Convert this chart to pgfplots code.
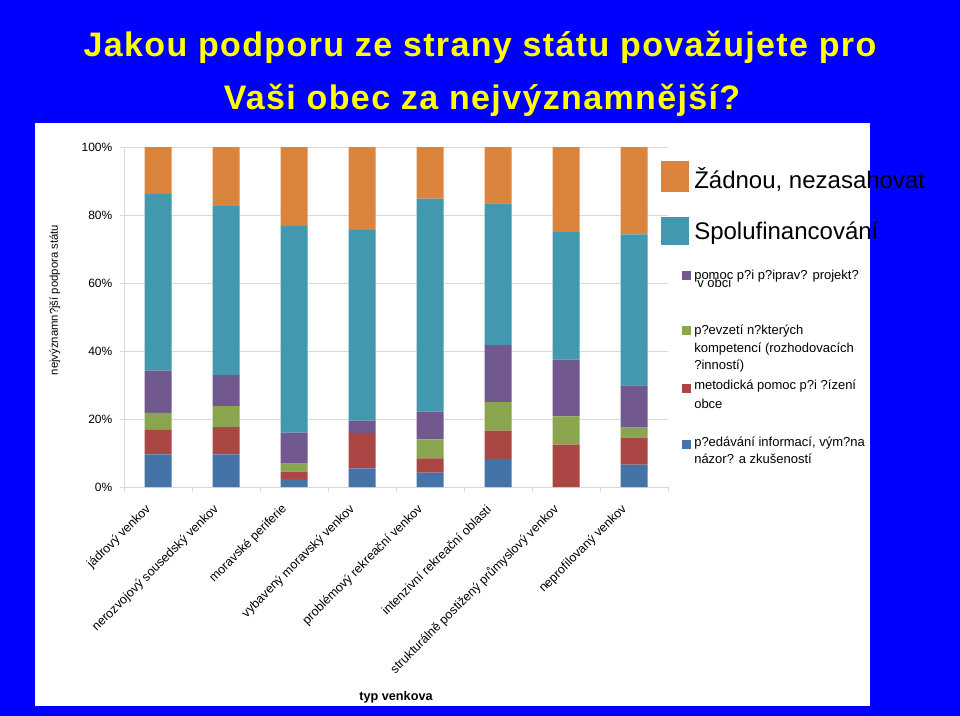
\documentclass[border=0pt]{standalone}
\usepackage{fontspec}
\setmainfont{Liberation Sans}
\newfontfamily\titlefont[LetterSpace=4]{Liberation Sans}
\usepackage{pgfplots}
\usepackage{pgfplotstable}
\pgfplotsset{compat=1.18}
\definecolor{bgblue}{RGB}{0,0,255}
\definecolor{tyellow}{RGB}{255,255,0}
\definecolor{cblue}{HTML}{4572A7}
\definecolor{cred}{HTML}{AA4643}
\definecolor{cgreen}{HTML}{89A54E}
\definecolor{cpurple}{HTML}{71588F}
\definecolor{cteal}{HTML}{4198AF}
\definecolor{corange}{HTML}{DB843D}
\definecolor{gridgray}{HTML}{D9D9D9}

\pgfplotstableread{
x blue red green purple teal orange
0 9.6 7.2 5.0 12.4 52.0 13.8
1 9.6 8.0 6.2 9.1 49.7 17.4
2 2.3 2.2 2.4 9.1 60.8 23.2
3 5.5 10.4 0.0 3.6 56.1 24.4
4 4.2 4.2 5.6 8.2 62.6 15.2
5 8.3 8.3 8.4 16.7 41.7 16.6
6 0.0 12.5 8.3 16.7 37.5 25.0
7 6.6 7.9 3.0 12.4 44.4 25.7
}\data

\begin{document}
\begin{tikzpicture}
\begin{scope}[x=0.75pt,y=-0.75pt]
\fill[bgblue] (0,0) rectangle (960,716);
\fill[white] (35,123) rectangle (870,706);
\node[tyellow, anchor=base, inner sep=0pt, font=\titlefont\bfseries\fontsize{25.5}{30}\selectfont] at (480,57) {Jakou podporu ze strany státu považujete pro};
\node[tyellow, anchor=base, inner sep=0pt, font=\titlefont\bfseries\fontsize{25.5}{30}\selectfont] at (482,110) {Vaši obec za nejvýznamnější?};
\end{scope}
\begin{axis}[
  at={(93pt,-365.25pt)}, anchor=south west,
  scale only axis, width=408pt, height=255pt,
  ybar stacked, bar width=20.25pt,
  xmin=-0.5, xmax=7.5, ymin=0, ymax=100,
  enlargelimits=false,
  ytick={0,20,...,100},
  yticklabel={\pgfmathprintnumber{\tick}\%},
  /pgf/number format/assume math mode=true,
  ymajorgrids, grid style={gridgray},
  axis x line*=bottom, axis y line*=left,
  axis line style={gridgray},
  tick align=outside,
  major tick length=3pt,
  tick style={gridgray},
  xtick={0,...,7},
  every major x tick/.append style={draw=none},
  minor xtick={-0.5,0.5,...,7.5},
  minor tick length=4pt,
  xticklabels={jádrový venkov,nerozvojový sousedský venkov,moravské periferie,vybavený moravský venkov,problémový rekreační venkov,intenzivní rekreační oblasti,strukturálně postižený průmyslový venkov,neprofilovaný venkov},
  xticklabel style={xshift=-4.5pt, yshift=-9.75pt, rotate=45, anchor=east, font=\fontsize{9.4}{11}\selectfont},
  yticklabel style={xshift=-2.25pt, font=\fontsize{9}{10}\selectfont},
  xlabel={typ venkova},
  xlabel style={at={(axis description cs:0.5,-0.618)}, anchor=center, font=\bfseries\fontsize{9.5}{11}\selectfont},
  ylabel={nejvýznamn?jší podpora státu},
  ylabel style={at={(axis description cs:-0.127,0.55)}, anchor=center, font=\fontsize{8.5}{10}\selectfont},
]
\addplot[fill=cblue, draw=none] table[x=x,y=blue] {\data};
\addplot[fill=cred, draw=none] table[x=x,y=red] {\data};
\addplot[fill=cgreen, draw=none] table[x=x,y=green] {\data};
\addplot[fill=cpurple, draw=none] table[x=x,y=purple] {\data};
\addplot[fill=cteal, draw=none] table[x=x,y=teal] {\data};
\addplot[fill=corange, draw=none] table[x=x,y=orange] {\data};
\end{axis}
\begin{scope}[x=0.75pt,y=-0.75pt]
\fill[corange] (661,161) rectangle (689,192);
\node[anchor=base west, inner sep=0pt, font=\fontsize{18}{20}\selectfont] at (694,189) {Žádnou, nezasahovat};
\fill[cteal] (661,217) rectangle (689,245);
\node[anchor=base west, inner sep=0pt, font=\fontsize{18}{20}\selectfont] at (694,240) {Spolufinancování};
\begin{scope}[every node/.style={anchor=base west, inner sep=0pt, font=\fontsize{9.75}{12}\selectfont}]
\fill[cpurple] (682,271) rectangle (691,280);
\node at (694,280) {pomoc p?i p?iprav? projekt?};
\node at (697,288) {v obci};
\fill[cgreen] (682,326) rectangle (691,335);
\node at (694,335) {p?evzetí n?kterých};
\node at (694,353) {kompetencí (rozhodovacích};
\node at (694,370) {?inností)};
\fill[cred] (682,384) rectangle (691,393);
\node at (694,390) {metodická pomoc p?i ?ízení};
\node at (694,408) {obce};
\fill[cblue] (682,440) rectangle (691,449);
\node at (694,446) {p?edávání informací, vým?na};
\node at (694,463) {názor? a zkušeností};
\end{scope}
\end{scope}
\pgfresetboundingbox
\path[use as bounding box] (0,0) rectangle (720pt,-537pt);
\end{tikzpicture}
\end{document}
